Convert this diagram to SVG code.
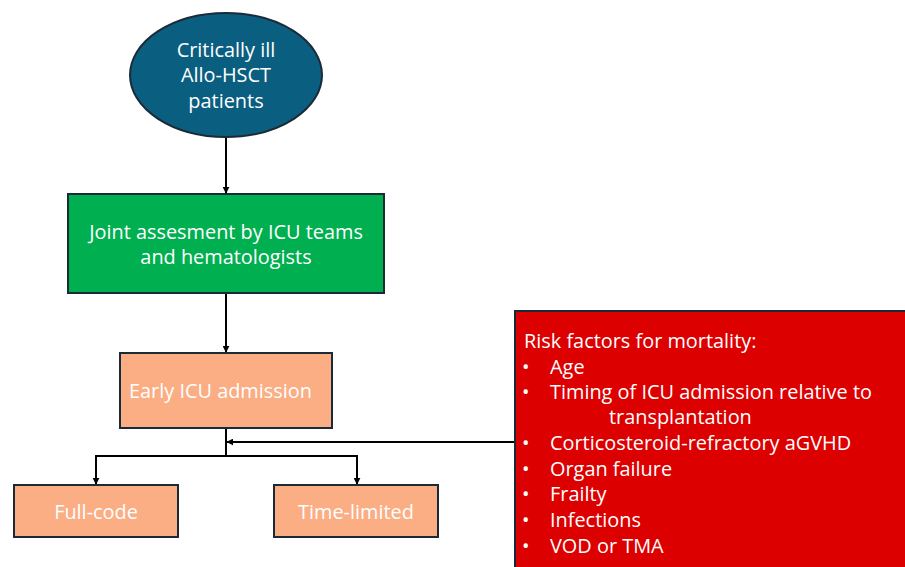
<svg xmlns="http://www.w3.org/2000/svg" width="905" height="567" viewBox="0 0 905 567">
<style>
text{font-family:"Open Sans","Liberation Sans",sans-serif;fill:#fff;font-size:19.9px}
.c{text-anchor:middle}
.ln{stroke:#000;stroke-width:2;fill:none}
.box{stroke:#1a2a36;stroke-width:2}
</style>
<defs>
<marker id="ah" viewBox="0 0 10 10" refX="9" refY="5" markerWidth="7" markerHeight="7" orient="auto-start-reverse" markerUnits="userSpaceOnUse">
<path d="M0,0 L10,5 L0,10 z" fill="#000"/>
</marker>
</defs>
<rect width="905" height="567" fill="#fff"/>
<g id="connectors">
<line class="ln" x1="226" y1="137" x2="226" y2="193" marker-end="url(#ah)"/>
<line class="ln" x1="226" y1="293" x2="226" y2="352" marker-end="url(#ah)"/>
<polyline class="ln" points="226,428 226,456"/>
<polyline class="ln" points="226,456 96,456 96,484" marker-end="url(#ah)"/>
<polyline class="ln" points="226,456 357,456 357,484" marker-end="url(#ah)"/>
<line class="ln" x1="515" y1="442" x2="227" y2="442" marker-end="url(#ah)"/>
</g>
<g id="n1">
<ellipse cx="226" cy="75" rx="96" ry="62" fill="#0a5e80" class="box"/>
<text class="c" x="226" y="57">Critically ill</text>
<text class="c" x="226" y="82">Allo-HSCT</text>
<text class="c" x="226" y="108">patients</text>
</g>
<g id="n2">
<rect x="68" y="194" width="316" height="99" fill="#00b050" class="box"/>
<text class="c" x="226" y="239">Joint assesment by ICU teams</text>
<text class="c" x="226" y="264">and hematologists</text>
</g>
<g id="n3">
<rect x="120" y="353" width="212" height="75" fill="#fbad84" class="box"/>
<text x="129" y="398">Early ICU admission</text>
</g>
<g id="n4">
<rect x="14" y="485" width="164" height="52" fill="#fbad84" class="box"/>
<text class="c" x="96" y="519">Full-code</text>
</g>
<g id="n5">
<rect x="274" y="485" width="164" height="52" fill="#fbad84" class="box"/>
<text class="c" x="356" y="519">Time-limited</text>
</g>
<g id="n6">
<rect x="515" y="311" width="395" height="262" fill="#dd0000" class="box"/>
<text x="524" y="348">Risk factors for mortality:</text>
<text x="522" y="374">•</text><text x="550" y="374">Age</text>
<text x="522" y="399">•</text><text x="550" y="399">Timing of ICU admission relative to</text>
<text x="609" y="424">transplantation</text>
<text x="522" y="450">•</text><text x="550" y="450">Corticosteroid-refractory aGVHD</text>
<text x="522" y="476">•</text><text x="550" y="476">Organ failure</text>
<text x="522" y="501">•</text><text x="550" y="501">Frailty</text>
<text x="522" y="527">•</text><text x="550" y="527">Infections</text>
<text x="522" y="553">•</text><text x="550" y="553">VOD or TMA</text>
</g>
</svg>
